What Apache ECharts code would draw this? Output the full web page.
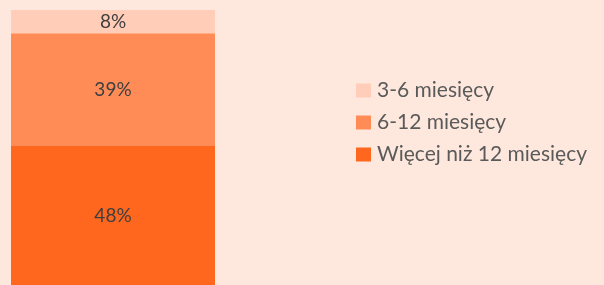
<html>
<head>
<meta charset="utf-8">
<script src="https://cdn.jsdelivr.net/npm/echarts@6/dist/echarts.min.js"></script>
</head>
<body>
<style>
    html, body, #main {
        width: 100%;
        height: 100%;
        margin: 0;
        background: #fee8dd;
    }
</style>
<div id="main"></div>
<script>
    var categories = ['Ogółem'];
    var seriesNames = ['Więcej niż 12 miesięcy', '6-12 miesięcy', '3-6 miesięcy'];
    var seriesValues = [[48], [39], [8]];
    var seriesColors = ['#ff671f', '#ff8c57', '#ffcdb8'];
    var legendOrder = ['3-6 miesięcy', '6-12 miesięcy', 'Więcej niż 12 miesięcy'];

    var chart = echarts.init(document.getElementById('main'));

    var series = seriesNames.map(function (name, i) {
        return {
            name: name,
            type: 'bar',
            stack: 'total',
            barWidth: '100%',
            data: seriesValues[i],
            itemStyle: { color: seriesColors[i] },
            label: {
                show: true,
                position: 'inside',
                formatter: '{c}%',
                color: '#3f3f3f',
                fontFamily: 'Lato',
                fontSize: 19
            }
        };
    });

    var option = {
        backgroundColor: '#fee8dd',
        animation: false,
        grid: { left: 11, top: 10, width: 204, bottom: 0 },
        xAxis: {
            type: 'category',
            data: categories,
            show: false
        },
        yAxis: {
            type: 'value',
            min: 0,
            max: 95,
            show: false
        },
        legend: {
            orient: 'vertical',
            left: 351,
            top: 75,
            itemWidth: 15,
            itemHeight: 14,
            itemGap: 11,
            icon: 'rect',
            data: legendOrder,
            textStyle: {
                color: '#5a5a5a',
                fontFamily: 'Lato',
                fontSize: 21,
                lineHeight: 20,
                padding: [0, 0, 0, 1]
            }
        },
        series: series
    };

    chart.setOption(option);
    window.onresize = chart.resize;
</script>
</body>
</html>
